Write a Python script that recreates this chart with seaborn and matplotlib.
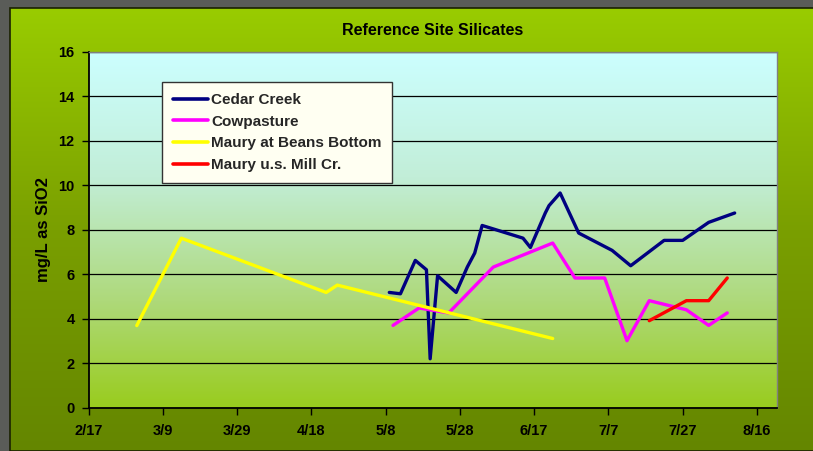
import numpy as np
import pandas as pd
import matplotlib
matplotlib.use("Agg")
import matplotlib.pyplot as plt
import matplotlib.dates as mdates
from matplotlib.colors import LinearSegmentedColormap
from matplotlib.lines import Line2D
from matplotlib.patches import Rectangle
import seaborn as sns

YEAR = 2006

sites = ["Cedar Creek", "Cowpasture", "Maury at Beans Bottom", "Maury u.s. Mill Cr."]
site_colors = ["#000080", "#ff00ff", "#ffff00", "#ff0000"]

cedar_dates = ["5/9", "5/12", "5/16", "5/19", "5/20", "5/22", "5/27", "5/30", "6/1", "6/3",
               "6/14", "6/16", "6/20", "6/21", "6/24", "6/29", "7/8", "7/13", "7/22", "7/27",
               "8/3", "8/10"]
cedar_vals = [5.18, 5.12, 6.62, 6.2, 2.2, 5.93, 5.18, 6.32, 6.95, 8.19,
              7.62, 7.2, 8.75, 9.08, 9.65, 7.85, 7.07, 6.38, 7.52, 7.52,
              8.33, 8.75]

cow_dates = ["5/10", "5/17", "5/25", "6/6", "6/22", "6/28", "7/6", "7/12", "7/18", "7/28",
             "8/3", "8/8"]
cow_vals = [3.7, 4.48, 4.26, 6.32, 7.4, 5.83, 5.83, 3.01, 4.81, 4.4, 3.7, 4.26]

beans_dates = ["3/2", "3/14", "4/22", "4/25", "6/22"]
beans_vals = [3.69, 7.62, 5.18, 5.51, 3.11]

mill_dates = ["7/18", "7/28", "8/3", "8/8"]
mill_vals = [3.91, 4.81, 4.81, 5.83]

x_start = "2/17"
tick_step_days = 20
n_ticks = 10


def to_dates(labels):
    out = []
    for s in labels:
        m, d = s.split("/")
        out.append(pd.Timestamp(YEAR, int(m), int(d)))
    return out


frames = []
for name, dates, vals in zip(sites,
                             [cedar_dates, cow_dates, beans_dates, mill_dates],
                             [cedar_vals, cow_vals, beans_vals, mill_vals]):
    frames.append(pd.DataFrame({"date": to_dates(dates), "value": vals, "site": name}))
df = pd.concat(frames, ignore_index=True)

sns.set_theme(style="white")
plt.rcParams["font.family"] = ["Liberation Sans", "DejaVu Sans"]
plt.rcParams["font.weight"] = "bold"

W, H = 813, 451
fig = plt.figure(figsize=(W / 100, H / 100), dpi=100)
fig.patch.set_facecolor("#5a5c58")

# green panel behind the chart
panel = fig.add_axes([0, 0, 1, 1], zorder=0)
panel.set_xlim(0, 1)
panel.set_ylim(0, 1)
panel.axis("off")
panel_cmap = LinearSegmentedColormap.from_list("panel", ["#648600", "#7a9f00", "#99cc00"])
grad = np.linspace(0, 1, 256).reshape(-1, 1)
panel.imshow(grad, extent=[10 / W, 1, 0, 1 - 8 / H], origin="lower", aspect="auto",
             cmap=panel_cmap)
panel.add_patch(Rectangle((10 / W, 0), 1, 1 - 8 / H, fill=False, ec="#1a2200", lw=1.2))

pos = [88.5 / W, 1 - 407.7 / H, (777 - 88.5) / W, (407.7 - 51.7) / H]

# plot area gradient
bg = fig.add_axes(pos, zorder=1)
bg.axis("off")
plot_cmap = LinearSegmentedColormap.from_list(
    "plot", [(0, "#99cc1e"), (0.3, "#aed97a"), (0.65, "#c2eed8"), (1, "#ccffff")])
bg.imshow(grad, extent=[0, 1, 0, 1], origin="lower", aspect="auto", cmap=plot_cmap)
bg.set_xlim(0, 1)
bg.set_ylim(0, 1)

ax = fig.add_axes(pos, zorder=2)
ax.patch.set_alpha(0)

sns.lineplot(data=df, x="date", y="value", hue="site", hue_order=sites,
             palette=dict(zip(sites, site_colors)), estimator=None, sort=False,
             lw=2.4, legend=False, ax=ax)

x0 = mdates.date2num(to_dates([x_start])[0])
ax.set_xlim(x0, x0 + 185.4)
ax.set_ylim(0, 16)
ax.set_xticks([x0 + tick_step_days * i for i in range(n_ticks)])
ax.xaxis.set_major_formatter(
    plt.FuncFormatter(lambda v, p: f"{mdates.num2date(v).month}/{mdates.num2date(v).day}"))
ax.set_yticks(range(0, 17, 2))

ax.yaxis.grid(True, color="black", lw=0.9)
ax.xaxis.grid(False)
ax.set_axisbelow(True)

for side in ["left", "bottom"]:
    ax.spines[side].set_color("black")
    ax.spines[side].set_linewidth(1.3)
for side in ["top", "right"]:
    ax.spines[side].set_color("#808080")
    ax.spines[side].set_linewidth(1.0)

ax.tick_params(axis="both", which="major", direction="out", length=5, width=1,
               color="black", labelsize=10.5, labelcolor="black", left=True, bottom=True)
ax.tick_params(axis="x", pad=7)
ax.tick_params(axis="y", pad=5)
for lab in ax.get_xticklabels() + ax.get_yticklabels():
    lab.set_fontweight("bold")

ax.set_xlabel("")
ax.set_ylabel("mg/L as SiO2", fontsize=12, fontweight="bold", color="black", labelpad=5)
ax.set_title("Reference Site Silicates", fontsize=11.5, fontweight="bold", color="black",
             pad=12)

handles = [Line2D([], [], color=c, lw=2.6) for c in site_colors]
leg = ax.legend(handles, sites, loc="upper left", bbox_to_anchor=(0.107, 0.914),
                borderaxespad=0, frameon=True, fancybox=False, framealpha=1,
                facecolor="#fffff2", edgecolor="#333333",
                handlelength=2.3, handletextpad=0.2, labelspacing=0.5, borderpad=0.7,
                prop={"weight": "bold", "size": 11})
leg.get_frame().set_linewidth(1.0)

fig.savefig("out.png", dpi=100, facecolor=fig.get_facecolor())
